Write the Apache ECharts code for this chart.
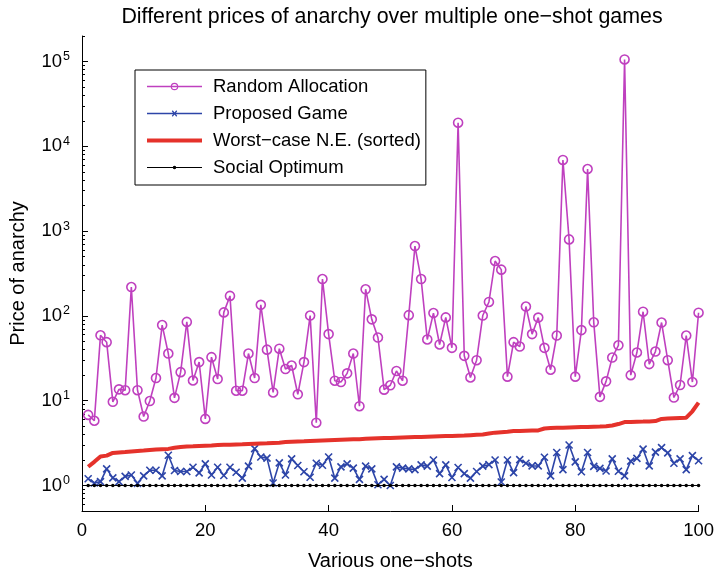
<!DOCTYPE html>
<html><head><meta charset="utf-8">
<script src="https://cdn.jsdelivr.net/npm/echarts@6/dist/echarts.min.js"></script>
<style>html,body{margin:0;padding:0;background:#fff}#c{width:717px;height:577px}</style>
</head><body><div id="c"></div>
<script>
const shots = [1,2,3,4,5,6,7,8,9,10,11,12,13,14,15,16,17,18,19,20,21,22,23,24,25,26,27,28,29,30,31,32,33,34,35,36,37,38,39,40,41,42,43,44,45,46,47,48,49,50,51,52,53,54,55,56,57,58,59,60,61,62,63,64,65,66,67,68,69,70,71,72,73,74,75,76,77,78,79,80,81,82,83,84,85,86,87,88,89,90,91,92,93,94,95,96,97,98,99,100];
const randomAllocation = [6.8,5.8,59,49,9.7,13.6,13.3,219,13.3,6.5,9.9,18.5,78,36,10.8,21.7,85,17.3,28.5,6.1,32.6,18,110,172,13.1,13.1,36,18.5,135,40,12.5,41,23.6,26,11.9,28.5,101,5.5,272,61,17.2,16.6,21,36,8.6,206,91,55.6,13.5,15.2,22.4,17.2,102,666,272,52.7,108,46,96,42,19000,33.8,18.8,30,101,146,444,351,19.2,49,43.5,129,61,95.5,42,23.2,58.7,6900,798,19.2,68,5400,84,11.1,16.9,32.3,45,105700,20,37,112,27,38,83.5,30,10.9,15.3,58.7,16.6,109];
const proposedGame = [1.2,1.07,1.11,1.57,1.23,1.11,1.28,1.33,1.06,1.3,1.51,1.51,1.3,2.27,1.5,1.46,1.46,1.64,1.41,1.8,1.33,1.64,1.31,1.64,1.43,1.22,1.69,2.72,2.17,2.1,1.07,1.85,1.33,2.06,1.72,1.45,1.25,1.83,1.73,2.17,1.22,1.66,1.8,1.6,1.18,1.69,1.57,1.02,1.18,1.0,1.66,1.6,1.57,1.54,1.75,1.69,2.0,1.38,1.75,1.24,1.63,1.38,1.22,1.46,1.69,1.76,2.0,1.1,2.0,1.42,2.02,1.83,1.7,1.7,2.15,1.3,2.45,1.54,3.0,1.9,1.45,2.45,1.68,1.59,1.48,2.06,1.47,1.3,1.94,2.09,2.68,1.7,2.47,2.8,2.42,1.83,2.06,1.54,2.25,1.96];
const worstCaseNE = [1.66,1.9,2.2,2.25,2.42,2.45,2.48,2.52,2.55,2.58,2.62,2.65,2.68,2.7,2.78,2.85,2.88,2.9,2.93,2.95,2.97,3.0,3.02,3.03,3.05,3.06,3.08,3.1,3.12,3.14,3.17,3.2,3.25,3.28,3.3,3.32,3.35,3.38,3.4,3.42,3.44,3.46,3.48,3.5,3.52,3.55,3.58,3.6,3.62,3.64,3.66,3.68,3.7,3.72,3.74,3.76,3.78,3.8,3.82,3.84,3.86,3.88,3.92,3.96,4.0,4.1,4.2,4.25,4.3,4.38,4.4,4.42,4.44,4.46,4.7,4.75,4.78,4.8,4.83,4.86,4.88,4.9,4.93,4.96,5.0,5.1,5.3,5.6,5.62,5.65,5.67,5.7,5.75,6.1,6.15,6.2,6.25,6.3,7.5,9.5];
const socialOptimum = [1,1,1,1,1,1,1,1,1,1,1,1,1,1,1,1,1,1,1,1,1,1,1,1,1,1,1,1,1,1,1,1,1,1,1,1,1,1,1,1,1,1,1,1,1,1,1,1,1,1,1,1,1,1,1,1,1,1,1,1,1,1,1,1,1,1,1,1,1,1,1,1,1,1,1,1,1,1,1,1,1,1,1,1,1,1,1,1,1,1,1,1,1,1,1,1,1,1,1,1];
const seriesNames = ['Random Allocation','Proposed Game','Worst\u2212case N.E. (sorted)','Social Optimum'];
const yMajorTicks = [1,10,100,1000,10000,100000];
const yMinorTicks = [0.5,0.6,0.7,0.8,0.9,2,3,4,5,6,7,8,9,20,30,40,50,60,70,80,90,200,300,400,500,600,700,800,900,2000,3000,4000,5000,6000,7000,8000,9000,20000,30000,40000,50000,60000,70000,80000,90000,200000];

const FONT = '"Liberation Sans", Arial, Helvetica, sans-serif';
const MAG = '#BF40BF', BLUE = '#2D45A8', RED = '#E5322B', BLACK = '#000000';
const pairs = arr => shots.map((x, i) => [x, arr[i]]);

// legend icons (line sample + marker), drawn as filled paths
const ICON_RANDOM = 'path://M0,4.25 L55,4.25 L55,5.75 L0,5.75 Z M31.3,5 A3.8,3.8 0 1 1 23.7,5 A3.8,3.8 0 1 1 31.3,5 Z M30.1,5 A2.6,2.6 0 1 0 24.9,5 A2.6,2.6 0 1 0 30.1,5 Z';
const ICON_PROPOSED = 'path://M0,4.3 L55,4.3 L55,5.7 L0,5.7 Z M24.8,2.7 L25.7,1.8 L30.2,7.3 L29.3,8.2 Z M29.3,1.8 L30.2,2.7 L25.7,8.2 L24.8,7.3 Z';
const ICON_WORST = 'path://M0,0 L55,0 L55,4 L0,4 Z';
const ICON_SOCIAL = 'path://M0,4.5 L55,4.5 L55,5.5 L0,5.5 Z M29.3,5 A1.8,1.8 0 1 1 25.7,5 A1.8,1.8 0 1 1 29.3,5 Z';
const noBorder = c => ({color: c, borderWidth: 0, borderColor: c});

const chart = echarts.init(document.getElementById('c'), null, {renderer: 'canvas'});
chart.setOption({
  animation: false,
  backgroundColor: '#fff',
  textStyle: {fontFamily: FONT, color: '#000'},
  grid: {left: 82, right: 17, top: 36, bottom: 66, containLabel: false},
  graphic: [{
    type: 'text', x: 392, y: 17,
    style: {text: 'Different prices of anarchy over multiple one\u2212shot games', font: '21.4px ' + FONT, fill: '#000', textAlign: 'center', textVerticalAlign: 'middle'}
  }],
  legend: {
    orient: 'vertical', left: 135, top: 70,
    padding: [7, 5, 8, 12], itemGap: 8, itemWidth: 55, itemHeight: 12,
    symbolKeepAspect: true,
    borderColor: '#000', borderWidth: 1, backgroundColor: '#fff',
    textStyle: {fontSize: 18.5, color: '#000', fontFamily: FONT, padding: [0, 0, 0, 6]},
    data: [
      {name: seriesNames[0], icon: ICON_RANDOM, itemStyle: noBorder(MAG)},
      {name: seriesNames[1], icon: ICON_PROPOSED, itemStyle: noBorder(BLUE)},
      {name: seriesNames[2], icon: ICON_WORST, itemStyle: noBorder(RED)},
      {name: seriesNames[3], icon: ICON_SOCIAL, itemStyle: noBorder(BLACK)}
    ]
  },
  xAxis: {
    type: 'value', min: 0, max: 100, interval: 20,
    axisLine: {show: true, lineStyle: {color: '#000', width: 1}},
    axisTick: {show: true, inside: true, length: 6, lineStyle: {color: '#000'}},
    axisLabel: {fontSize: 18.5, color: '#000', margin: 10, fontFamily: FONT, showMinLabel: true, showMaxLabel: true},
    splitLine: {show: false},
    name: 'Various one\u2212shots', nameLocation: 'middle', nameGap: 40,
    nameTextStyle: {fontSize: 20, color: '#000', fontFamily: FONT}
  },
  yAxis: [{
    type: 'log', logBase: 10, min: 0.5, max: 200000,
    axisLine: {show: true, lineStyle: {color: '#000', width: 1}},
    axisTick: {show: true, inside: true, length: 6, lineStyle: {color: '#000'}, customValues: yMajorTicks},
    axisLabel: {
      customValues: yMajorTicks, margin: 12, color: '#000',
      formatter: v => '{b|10}{s|' + Math.round(Math.log10(v)) + '}',
      rich: {
        b: {fontSize: 18.5, fontFamily: FONT, color: '#000'},
        s: {fontSize: 12.5, fontFamily: FONT, color: '#000', verticalAlign: 'top', padding: [0, 0, 10, 1]}
      }
    },
    splitLine: {show: false},
    name: 'Price of anarchy', nameLocation: 'middle', nameGap: 54, nameRotate: 90,
    nameTextStyle: {fontSize: 20, color: '#000', fontFamily: FONT}
  }, {
    type: 'log', logBase: 10, min: 0.5, max: 200000, position: 'left', offset: 0,
    axisLine: {show: false},
    axisTick: {show: true, inside: true, length: 3, lineStyle: {color: '#000'}, customValues: yMinorTicks},
    axisLabel: {show: false},
    splitLine: {show: false}
  }],
  series: [{
    name: seriesNames[0], type: 'line', data: pairs(randomAllocation), yAxisIndex: 0,
    symbol: 'circle', symbolSize: 9, showAllSymbol: true,
    itemStyle: {color: 'rgba(255,255,255,0)', borderColor: MAG, borderWidth: 1.6},
    lineStyle: {color: MAG, width: 1.6}, z: 2
  }, {
    name: seriesNames[1], type: 'line', data: pairs(proposedGame), yAxisIndex: 0,
    symbol: 'path://M0,0 L10,10 M10,0 L0,10', symbolSize: 7, showAllSymbol: true,
    itemStyle: {color: BLUE, borderColor: BLUE, borderWidth: 1.6},
    lineStyle: {color: BLUE, width: 1.6}, z: 3
  }, {
    name: seriesNames[2], type: 'line', data: pairs(worstCaseNE), yAxisIndex: 0,
    symbol: 'none', showSymbol: false,
    itemStyle: {color: RED},
    lineStyle: {color: RED, width: 4}, z: 4
  }, {
    name: seriesNames[3], type: 'line', data: pairs(socialOptimum), yAxisIndex: 0,
    symbol: 'circle', symbolSize: 3.5, showAllSymbol: true,
    itemStyle: {color: BLACK},
    lineStyle: {color: BLACK, width: 1}, z: 5
  }]
});
</script></body></html>
